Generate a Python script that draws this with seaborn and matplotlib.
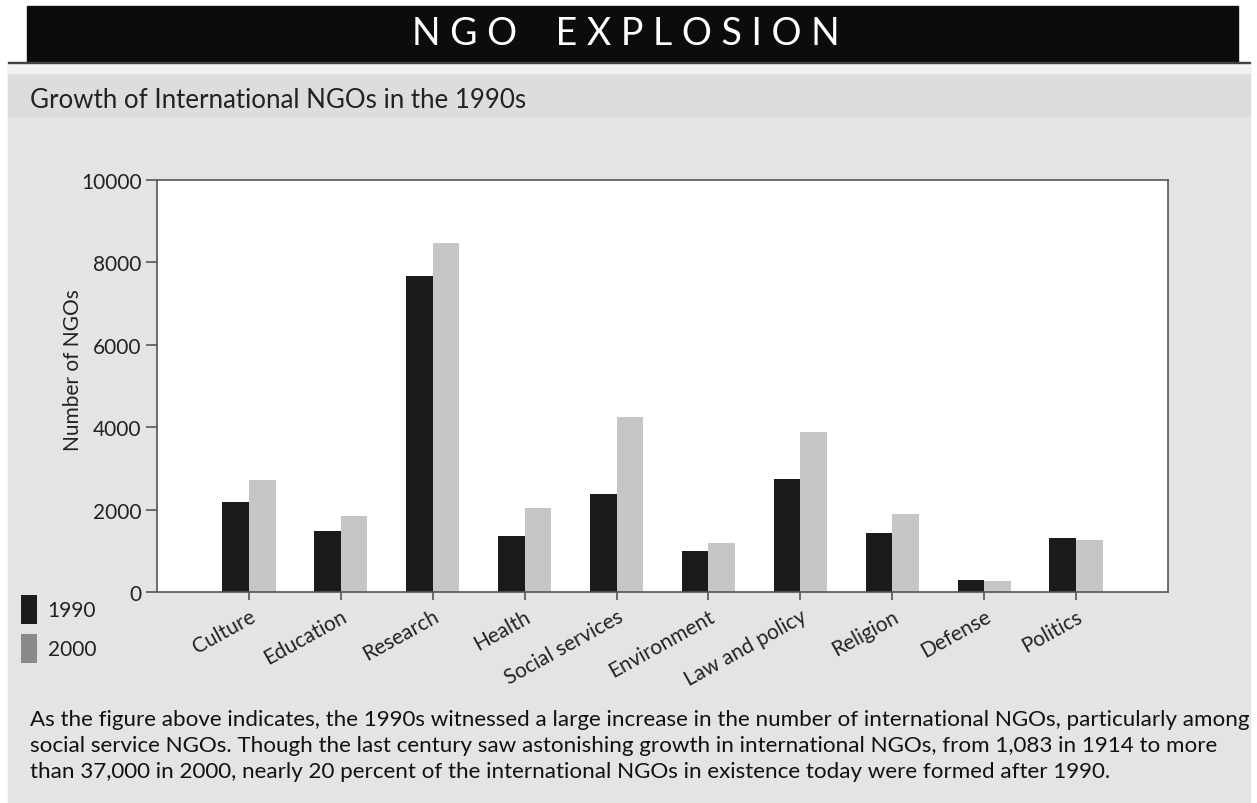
import matplotlib
matplotlib.use("Agg")
import matplotlib.pyplot as plt
from matplotlib.patches import Rectangle, Patch
import pandas as pd
import seaborn as sns

# Number of international NGOs by sector
categories = ["Culture", "Education", "Research", "Health", "Social services",
              "Environment", "Law and policy", "Religion", "Defense", "Politics"]
ngos_1990 = [2180, 1490, 7680, 1370, 2380, 1000, 2740, 1430, 290, 1310]
ngos_2000 = [2730, 1840, 8470, 2040, 4240, 1190, 3880, 1890, 270, 1260]
years = ["1990", "2000"]
y_ticks = [0, 2000, 4000, 6000, 8000, 10000]

caption_lines = [
    "As the figure above indicates, the 1990s witnessed a large increase in the number of international NGOs, particularly among",
    "social service NGOs. Though the last century saw astonishing growth in international NGOs, from 1,083 in 1914 to more",
    "than 37,000 in 2000, nearly 20 percent of the international NGOs in existence today were formed after 1990.",
]

df = pd.DataFrame({
    "sector": categories * 2,
    "count": ngos_1990 + ngos_2000,
    "year": [years[0]] * len(categories) + [years[1]] * len(categories),
})

sns.set_theme(style="white")
plt.rcParams["font.family"] = ["Lato", "DejaVu Sans"]

W, H = 1257, 804
fig = plt.figure(figsize=(W / 100, H / 100), dpi=100, facecolor="white")


def fx(px):
    return px / W


def fy(py):
    return 1 - py / H


# page background and header band
fig.patches.append(Rectangle((fx(8), fy(804)), fx(1242), (804 - 63) / H,
                             transform=fig.transFigure, color="#e4e4e4", zorder=0))
fig.patches.append(Rectangle((fx(8), fy(75)), fx(1242), 12 / H,
                             transform=fig.transFigure, color="#f3f3f3", zorder=0))
fig.patches.append(Rectangle((fx(8), fy(117)), fx(1242), 42 / H,
                             transform=fig.transFigure, color="#dddddd", zorder=0))
fig.patches.append(Rectangle((fx(27), fy(63)), fx(1211), 56 / H,
                             transform=fig.transFigure, color="#0c0c0c", zorder=1))
fig.patches.append(Rectangle((fx(8), fy(64)), fx(1242), 1.5 / H,
                             transform=fig.transFigure, color="#444444", zorder=1))

fig.text(fx(626), fy(34), "N G O    E X P L O S I O N", color="white",
         fontsize=27, ha="center", va="center", zorder=2)
fig.text(fx(30), fy(100), "Growth of International NGOs in the 1990s",
         fontsize=18.6, color="#222222", ha="left", va="center", zorder=2)

ax = fig.add_axes([fx(157), fy(593), fx(1168 - 157), (593 - 181) / H])
ax.set_zorder(5)
ax.set_facecolor("white")

dark, light = "#1b1b1b", "#c6c6c6"
sns.barplot(data=df, x="sector", y="count", hue="year", palette=[dark, light],
            width=0.58, gap=0, saturation=1, linewidth=0, legend=False, ax=ax)

ax.set_xlim(-1, len(categories))
ax.set_ylim(0, 10000)
ax.set_yticks(y_ticks)
ax.set_yticklabels([str(t) for t in y_ticks], fontsize=15, color="#222222")
ax.set_xticks(range(len(categories)))
ax.set_xticklabels(categories, fontsize=15, color="#222222",
                   rotation=29, ha="right", rotation_mode="anchor")
ax.set_xlabel("")
ax.set_ylabel("Number of NGOs", fontsize=15, color="#222222")
ax.yaxis.set_label_coords(-0.073, 0.54)

for side in ["left", "bottom", "top", "right"]:
    ax.spines[side].set_visible(True)
    ax.spines[side].set_color("#555555")
    ax.spines[side].set_linewidth(1.2)
ax.tick_params(axis="y", direction="out", length=8, width=1.2, color="#555555", pad=3, left=True)
ax.tick_params(axis="x", direction="out", length=6, width=1.2, color="#555555", pad=4, bottom=True)

handles = [Patch(facecolor=dark, edgecolor="none"), Patch(facecolor="#8a8a8a", edgecolor="none")]
fig.legend(handles, years, loc="upper left", bbox_to_anchor=(fx(21), fy(596)),
           frameon=False, fontsize=15, handlelength=0.78, handleheight=1.8,
           handletextpad=0.5, labelspacing=0.45, borderpad=0, borderaxespad=0,
           labelcolor="#222222")

for i, line in enumerate(caption_lines):
    fig.text(fx(30), fy(720 + 26 * i), line, fontsize=16.1, color="#111111",
             ha="left", va="center", zorder=2)

fig.savefig("out.png", dpi=100, facecolor=fig.get_facecolor())
